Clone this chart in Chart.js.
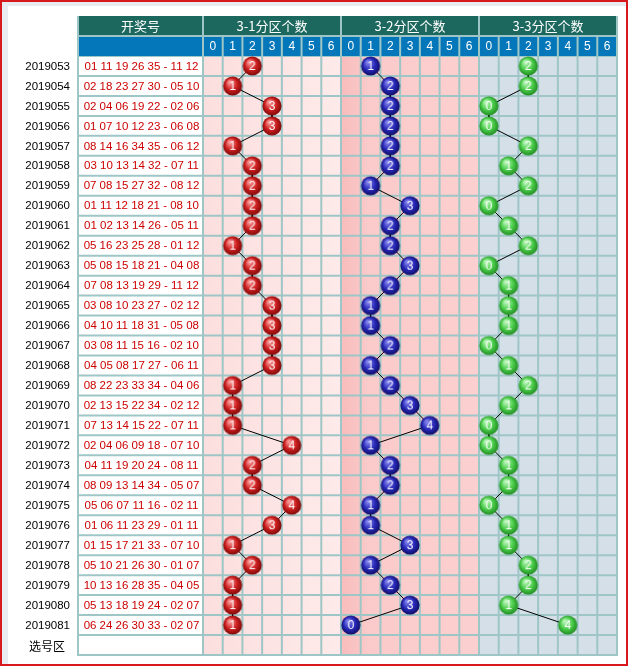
<!DOCTYPE html>
<html>
<head>
<meta charset="utf-8">
<script src="https://cdn.jsdelivr.net/npm/chart.js@4/dist/chart.umd.min.js"></script>
<style>
  html, body { margin: 0; padding: 0; background: #fff; }
  canvas { display: block; }
</style>
</head>
<body>
<canvas id="myChart" width="628" height="666"></canvas>
<script>
// data
const periods = ['2019053','2019054','2019055','2019056','2019057','2019058','2019059','2019060','2019061','2019062',
  '2019063','2019064','2019065','2019066','2019067','2019068','2019069','2019070','2019071','2019072',
  '2019073','2019074','2019075','2019076','2019077','2019078','2019079','2019080','2019081']
const draws = ['01 11 19 26 35 - 11 12','02 18 23 27 30 - 05 10','02 04 06 19 22 - 02 06','01 07 10 12 23 - 06 08',
  '08 14 16 34 35 - 06 12','03 10 13 14 32 - 07 11','07 08 15 27 32 - 08 12','01 11 12 18 21 - 08 10',
  '01 02 13 14 26 - 05 11','05 16 23 25 28 - 01 12','05 08 15 18 21 - 04 08','07 08 13 19 29 - 11 12',
  '03 08 10 23 27 - 02 12','04 10 11 18 31 - 05 08','03 08 11 15 16 - 02 10','04 05 08 17 27 - 06 11',
  '08 22 23 33 34 - 04 06','02 13 15 22 34 - 02 12','07 13 14 15 22 - 07 11','02 04 06 09 18 - 07 10',
  '04 11 19 20 24 - 08 11','08 09 13 14 34 - 05 07','05 06 07 11 16 - 02 11','01 06 11 23 29 - 01 11',
  '01 15 17 21 33 - 07 10','05 10 21 26 30 - 01 07','10 13 16 28 35 - 04 05','05 13 18 19 24 - 02 07',
  '06 24 26 30 33 - 02 07']
const zone1 = [2,1,3,3,1,2,2,2,2,1,2,2,3,3,3,3,1,1,1,4,2,2,4,3,1,2,1,1,1]
const zone2 = [1,2,2,2,2,2,1,3,2,2,3,2,1,1,2,1,2,3,4,1,2,2,1,1,3,1,2,3,0]
const zone3 = [2,2,0,0,2,1,2,0,1,2,0,1,1,1,0,1,2,1,0,0,1,1,0,1,1,2,2,1,4]
const groupTitles = ['3-1分区个数', '3-2分区个数', '3-3分区个数']
const tickLabels = ['0','1','2','3','4','5','6']
const headTitle = '开奖号'
const lastRow = '选号区'

const gridColor = 'rgb(158,198,198)'
const ballColors = [
  ['rgb(250,150,150)', 'rgb(205,30,30)', 'rgb(120,8,8)'],
  ['rgb(130,130,235)', 'rgb(40,40,185)', 'rgb(12,12,95)'],
  ['rgb(185,245,185)', 'rgb(75,205,75)', 'rgb(30,135,30)']
]
const zones = [zone1, zone2, zone3]

// pre-rendered balls, used as point styles
const makeBall = (cols, n) => {
  const c = document.createElement('canvas')
  c.width = 22; c.height = 22
  const g = c.getContext('2d')
  const grad = g.createRadialGradient(8, 7, 1, 11, 11, 10)
  grad.addColorStop(0, cols[0])
  grad.addColorStop(0.55, cols[1])
  grad.addColorStop(1, cols[2])
  g.fillStyle = grad
  g.beginPath(); g.arc(11, 11, 9.6, 0, Math.PI * 2); g.fill()
  g.fillStyle = '#fff'
  g.font = '12px Arial'
  g.textAlign = 'center'
  g.textBaseline = 'middle'
  g.fillText(String(n), 11, 11.5)
  return c
}
const balls = ballColors.map(cols => tickLabels.map((t, n) => makeBall(cols, n)))

const rows = periods.length + 1

const tablePlugin = {
  id: 'table',
  beforeDraw(chart) {
    const ctx = chart.ctx
    const xs = chart.scales.x, ys = chart.scales.y
    const px = c => xs.getPixelForValue(c)
    const py = r => ys.getPixelForValue(r)
    const top = py(0), bottom = py(rows)
    const left = 78
    ctx.save()
    ctx.fillStyle = '#fff'
    ctx.fillRect(0, 0, 628, 666)
    // frame
    ctx.fillStyle = 'rgb(232,236,240)'
    ctx.fillRect(2, 2, 624, 4)
    ctx.fillRect(2, 2, 6, 662)
    ctx.fillStyle = 'rgb(215,25,30)'
    ctx.fillRect(0, 0, 628, 2)
    ctx.fillRect(0, 0, 2, 666)
    ctx.fillRect(626, 0, 2, 666)
    ctx.fillRect(0, 664, 628, 2)

    // group backgrounds
    const g1 = ctx.createLinearGradient(px(0), 0, px(7), 0)
    g1.addColorStop(0, 'rgb(252,222,222)'); g1.addColorStop(1, 'rgb(254,234,234)')
    const g2 = ctx.createLinearGradient(px(7), 0, px(14), 0)
    g2.addColorStop(0, 'rgb(248,188,188)'); g2.addColorStop(0.2, 'rgb(251,202,202)'); g2.addColorStop(1, 'rgb(252,208,208)')
    ctx.fillStyle = g1; ctx.fillRect(px(0), top, px(7) - px(0), bottom - top)
    ctx.fillStyle = g2; ctx.fillRect(px(7), top, px(14) - px(7), bottom - top)
    ctx.fillStyle = 'rgb(213,223,232)'; ctx.fillRect(px(14), top, px(21) - px(14), bottom - top)

    // grid
    ctx.strokeStyle = gridColor
    ctx.lineWidth = 2
    ctx.beginPath()
    for (let r = 0; r <= rows; r++) {
      ctx.moveTo(left, py(r)); ctx.lineTo(px(21) + 1, py(r))
    }
    ctx.moveTo(left, top); ctx.lineTo(left, bottom + 1)
    for (let c = 0; c <= 21; c++) {
      ctx.moveTo(px(c), top); ctx.lineTo(px(c), bottom + 1)
    }
    ctx.stroke()

    // header rows
    ctx.fillStyle = 'rgb(28,104,94)'
    ctx.fillRect(left, 16, px(21) - left, 20)
    ctx.fillStyle = 'rgb(4,118,186)'
    ctx.fillRect(left, 36, px(21) - left, 20)
    ctx.beginPath()
    ctx.moveTo(left, 36); ctx.lineTo(px(21), 36)
    ctx.moveTo(left, 16); ctx.lineTo(left, 56)
    ctx.moveTo(px(21), 16); ctx.lineTo(px(21), 56)
    for (let g = 0; g <= 3; g++) { ctx.moveTo(px(g * 7), 16); ctx.lineTo(px(g * 7), 36) }
    for (let c = 0; c <= 21; c++) { ctx.moveTo(px(c), 36); ctx.lineTo(px(c), 56) }
    ctx.stroke()

    ctx.textAlign = 'center'
    ctx.textBaseline = 'middle'
    ctx.fillStyle = '#fff'
    ctx.font = '13px "Noto Sans CJK SC"'
    ctx.fillText(headTitle, (left + px(0)) / 2, 26)
    groupTitles.forEach((t, g) => ctx.fillText(t, (px(g * 7) + px(g * 7 + 7)) / 2, 26))
    ctx.font = '12px Arial'
    for (let c = 0; c < 21; c++) ctx.fillText(tickLabels[c % 7], px(c + 0.5), 46.5)

    // left columns
    ctx.font = '11.5px Arial'
    periods.forEach((p, i) => {
      ctx.textAlign = 'right'
      ctx.fillStyle = '#000'
      ctx.fillText(p, 70, py(i + 0.5) + 0.5)
      ctx.textAlign = 'center'
      ctx.fillStyle = 'rgb(205,0,0)'
      ctx.fillText(draws[i], (left + px(0)) / 2 + 1, py(i + 0.5) + 0.5)
    })
    ctx.fillStyle = '#000'
    ctx.textAlign = 'center'
    ctx.font = '12px "Noto Sans CJK SC"'
    ctx.fillText(lastRow, 47, py(rows - 0.5) + 1)
    ctx.restore()
  }
}

const datasets = zones.map((vals, g) => ({
  data: vals.map((v, i) => ({x: g * 7 + v + 0.5, y: i + 0.5})),
  borderColor: '#000',
  borderWidth: 1,
  tension: 0,
  pointRadius: 10,
  pointStyle: ctx => balls[g][vals[ctx.dataIndex]]
}))

const myChart = new Chart(document.getElementById('myChart'), {
  type: 'line',
  data: { datasets },
  options: {
    responsive: false,
    animation: false,
    events: [],
    layout: { padding: { left: 203, right: 5, top: 56, bottom: 10 } },
    scales: {
      x: { type: 'linear', min: 0, max: 21, display: false },
      y: { type: 'linear', min: 0, max: rows, reverse: true, display: false }
    },
    plugins: { legend: { display: false }, tooltip: { enabled: false } }
  },
  plugins: [tablePlugin]
})
</script>
</body>
</html>
